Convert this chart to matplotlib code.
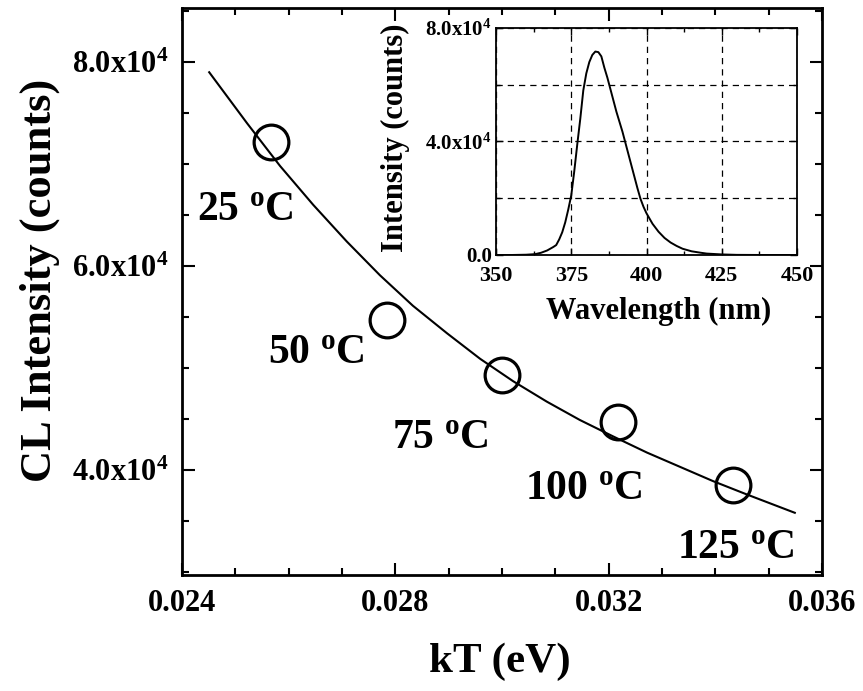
import matplotlib
matplotlib.use("Agg")
import matplotlib.pyplot as plt
from matplotlib.ticker import MultipleLocator, FuncFormatter

plt.rcParams['font.family'] = ['Liberation Serif', 'DejaVu Serif']
plt.rcParams['font.weight'] = 'bold'
plt.rcParams['mathtext.fontset'] = 'custom'
plt.rcParams['mathtext.rm'] = 'Liberation Serif:bold'
plt.rcParams['mathtext.it'] = 'Liberation Serif:bold'
plt.rcParams['mathtext.bf'] = 'Liberation Serif:bold'
plt.rcParams['mathtext.default'] = 'rm'

# measured CL intensity vs kT
kT = [0.02567, 0.02785, 0.03000, 0.03218, 0.03434]
cl_int = [7.22e4, 5.47e4, 4.93e4, 4.47e4, 3.85e4]
temp_labels = ['25 $^{o}$C', '50 $^{o}$C', '75 $^{o}$C', '100 $^{o}$C', '125 $^{o}$C']
label_x = [0.02428, 0.02561, 0.02794, 0.03043, 0.03328]
label_y = [6.45e4, 5.05e4, 4.22e4, 3.72e4, 3.14e4]

# fitted curve
fit_kT = [0.02451, 0.02522, 0.02584, 0.02646, 0.02709, 0.02771, 0.02833, 0.02897,
          0.02959, 0.03021, 0.03084, 0.03146, 0.03208, 0.03272, 0.03334, 0.03396,
          0.03459, 0.03549]
fit_int = [7.90e4, 7.40e4, 6.98e4, 6.60e4, 6.24e4, 5.91e4, 5.61e4, 5.34e4,
           5.09e4, 4.87e4, 4.67e4, 4.49e4, 4.33e4, 4.17e4, 4.03e4, 3.89e4,
           3.76e4, 3.58e4]

# inset spectrum
wl = [350, 355, 360, 363, 365, 367, 369, 370, 371, 372, 373, 374, 375, 376, 377,
      378, 379, 380, 381, 382, 383, 384, 385, 386, 387, 388, 389, 390, 391, 392,
      393, 394, 395, 396, 397, 398, 399, 400, 402, 404, 406, 408, 410, 412, 415,
      418, 420, 425, 430, 440, 450]
spec = [0, 0, 100, 300, 800, 1600, 2800, 3500, 5500, 8000, 11500, 16000, 21000,
        29500, 39000, 48000, 58000, 64000, 68000, 70500, 71700, 71500, 70000,
        66000, 62500, 58500, 54500, 50500, 47000, 43500, 39500, 35500, 31500,
        27500, 23500, 19800, 17000, 14700, 11000, 8200, 6000, 4400, 3200, 2200,
        1300, 800, 500, 200, 50, 0, 0]


def sci_fmt(v, pos):
    if abs(v) < 1:
        return '0.0'
    return '%.1fx10$^{4}$' % (v / 1e4)


fig = plt.figure(figsize=(8.63, 6.91), dpi=100)
ax = fig.add_axes([182 / 863, 1 - 575 / 691, 640 / 863, 567 / 691])

ax.plot(fit_kT, fit_int, color='black', lw=1.5)
ax.plot(kT, cl_int, 'o', ms=25, mfc='none', mec='black', mew=2.3)
for t, x, y in zip(temp_labels, label_x, label_y):
    ax.text(x, y, t, fontsize=30, fontweight='bold', ha='left', va='baseline')

ax.set_xlim(0.024, 0.036)
ax.set_ylim(2.97e4, 8.53e4)
ax.xaxis.set_major_locator(MultipleLocator(0.004))
ax.xaxis.set_minor_locator(MultipleLocator(0.001))
ax.yaxis.set_major_locator(MultipleLocator(2e4))
ax.yaxis.set_minor_locator(MultipleLocator(0.5e4))
ax.xaxis.set_major_formatter(FuncFormatter(lambda v, p: '%.3f' % v))
ax.yaxis.set_major_formatter(FuncFormatter(sci_fmt))
ax.tick_params(which='both', direction='in', top=True, right=True, width=1.5)
ax.tick_params(which='major', length=9)
ax.tick_params(which='minor', length=5)
ax.tick_params(axis='x', labelsize=22, pad=10)
ax.tick_params(axis='y', labelsize=22, pad=10)
for s in ax.spines.values():
    s.set_linewidth(2)

fig.text(40 / 863, 1 - 280 / 691, 'CL Intensity (counts)', rotation=90,
         fontsize=32, fontweight='bold', ha='center', va='center')
fig.text(500 / 863, 1 - 662 / 691, 'kT (eV)', fontsize=31, fontweight='bold',
         ha='center', va='center')

# inset
axi = fig.add_axes([496 / 863, 1 - 255 / 691, 301 / 863, 227 / 691])
axi.plot(wl, spec, color='black', lw=1.4)
axi.set_xlim(350, 450)
axi.set_ylim(0, 8e4)
axi.xaxis.set_major_locator(MultipleLocator(25))
axi.xaxis.set_minor_locator(MultipleLocator(12.5))
axi.yaxis.set_major_locator(MultipleLocator(4e4))
axi.yaxis.set_minor_locator(MultipleLocator(2e4))
axi.yaxis.set_major_formatter(FuncFormatter(sci_fmt))
axi.grid(True, which='major', axis='x', ls=(0, (5, 4)), color='black', lw=0.9)
axi.grid(True, which='both', axis='y', ls=(0, (5, 4)), color='black', lw=0.9)
axi.tick_params(which='both', direction='in', top=True, right=True, width=1)
axi.tick_params(which='major', length=5)
axi.tick_params(which='minor', length=3)
axi.tick_params(axis='x', labelsize=16, pad=8)
axi.tick_params(axis='y', labelsize=15, pad=3)
for s in axi.spines.values():
    s.set_linewidth(1.3)

fig.text(395 / 863, 1 - 138 / 691, 'Intensity (counts)', rotation=90,
         fontsize=22, fontweight='bold', ha='center', va='center')
fig.text(659 / 863, 1 - 311 / 691, 'Wavelength (nm)', fontsize=22,
         fontweight='bold', ha='center', va='center')

fig.savefig('out.png', dpi=100)
